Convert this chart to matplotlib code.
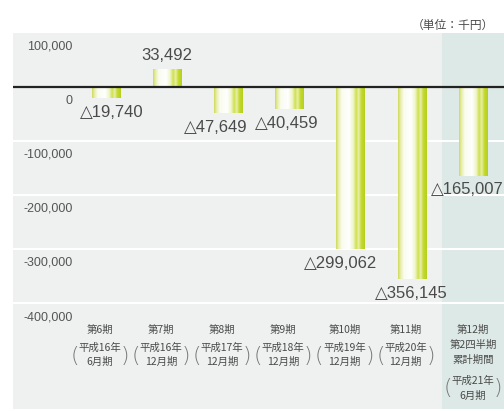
import numpy as np
import matplotlib
matplotlib.use("Agg")
import matplotlib.pyplot as plt
from matplotlib.colors import LinearSegmentedColormap

# data (単位：千円)
periods = ["第6期", "第7期", "第8期", "第9期", "第10期", "第11期", "第12期"]
sub_lines = [
    ["平成16年", "6月期"],
    ["平成16年", "12月期"],
    ["平成17年", "12月期"],
    ["平成18年", "12月期"],
    ["平成19年", "12月期"],
    ["平成20年", "12月期"],
    ["平成21年", "6月期"],
]
values = [-19740, 33492, -47649, -40459, -299062, -356145, -165007]
value_labels = ["△19,740", "33,492", "△47,649", "△40,459",
                "△299,062", "△356,145", "△165,007"]
yticks = [100000, 0, -100000, -200000, -300000, -400000]
ytick_labels = ["100,000", "0", "-100,000", "-200,000", "-300,000", "-400,000"]

# label nudges in points (x, y)
label_offsets = [(4, -5), (0, 4), (-9, -5), (-2, -5), (-7, -5), (0, -5), (-4, -4)]

num_font = ["Liberation Sans", "DejaVu Sans"]
jp_font = ["Noto Sans CJK JP", "DejaVu Sans"]
text_col = "#4a4a4a"

fig = plt.figure(figsize=(5.04, 4.11), dpi=100)
W, H = 504, 411
ax = fig.add_axes([13 / W, 1 - 409 / H, 1 - 13 / W, (409 - 33) / H])
ax.set_facecolor("#eef1f0")

x = np.arange(len(values))

# highlighted last period
ax.axvspan(5.5, 7, color="#dde9e6", zorder=0, lw=0)

for v in yticks[2:]:
    ax.axhline(v, color="white", lw=1.5, zorder=1)
ax.axhline(0, color="#222222", lw=1.6, zorder=4)

bar_cmap = LinearSegmentedColormap.from_list("bar", [
    (0.0, "#cbd955"), (0.07, "#e4eba0"), (0.2, "#fafcee"), (0.45, "#ffffff"),
    (0.6, "#eef4c8"), (0.7, "#d0e04c"), (0.78, "#e8f0aa"), (0.88, "#c3d92c"),
    (1.0, "#b6cf1e")])
grad = np.linspace(0, 1, 256).reshape(1, -1)

bars = ax.bar(x, values, width=0.46, color="none", edgecolor="none", zorder=3)
for b in bars:
    x0, w = b.get_x(), b.get_width()
    y0, y1 = sorted([b.get_y(), b.get_y() + b.get_height()])
    im = ax.imshow(grad, cmap=bar_cmap, extent=[x0, x0 + w, y0, y1],
                   aspect="auto", zorder=3, interpolation="bilinear")
    im.set_clip_path(b)

for xi, v, lab, off in zip(x, values, value_labels, label_offsets):
    ax.annotate(lab, (xi, v), xytext=off, textcoords="offset points",
                ha="center", va="bottom" if v > 0 else "top",
                fontsize=12, family=num_font, color=text_col, zorder=5)

# y tick labels drawn just under each gridline
for v, lab in zip(yticks, ytick_labels):
    ax.annotate(lab, (0.122, v), xycoords=("axes fraction", "data"),
                xytext=(0, -10), textcoords="offset points",
                ha="right", va="center", fontsize=9, family=num_font,
                color="#555555")

# category labels
for i, (p, sub) in enumerate(zip(periods, sub_lines)):
    if i < 6:
        cx = i - 0.1
        ax.text(cx, -450000, p, ha="center", va="center", fontsize=7.5,
                family=jp_font, color=text_col)
        ax.text(cx, -483000, sub[0], ha="center", va="center", fontsize=7.5,
                family=jp_font, color=text_col)
        ax.text(cx, -509000, sub[1], ha="center", va="center", fontsize=7.5,
                family=jp_font, color=text_col)
        py = -497000
    else:
        cx = i
        for yy, t in zip([-450000, -478000, -506000, -543000, -572000],
                         [p, "第2四半期", "累計期間", sub[0], sub[1]]):
            ax.text(cx, yy, t, ha="center", va="center", fontsize=7.5,
                    family=jp_font, color=text_col)
        py = -558000
    ax.text(cx - 0.41, py, "(", ha="center", va="center", fontsize=16,
            family="DejaVu Sans", fontweight="light", color="#777777")
    ax.text(cx + 0.41, py, ")", ha="center", va="center", fontsize=16,
            family="DejaVu Sans", fontweight="light", color="#777777")

fig.text(412 / W, 1 - 25 / H, "（単位：千円）", ha="left", va="center",
         fontsize=8.5, family=jp_font, color=text_col)

ax.set_xlim(-1.52, 6.51)
ax.set_ylim(-596000, 100000)
ax.set_xticks([])
ax.set_yticks([])
for s in ax.spines.values():
    s.set_visible(False)

fig.savefig("out.png", dpi=100)
